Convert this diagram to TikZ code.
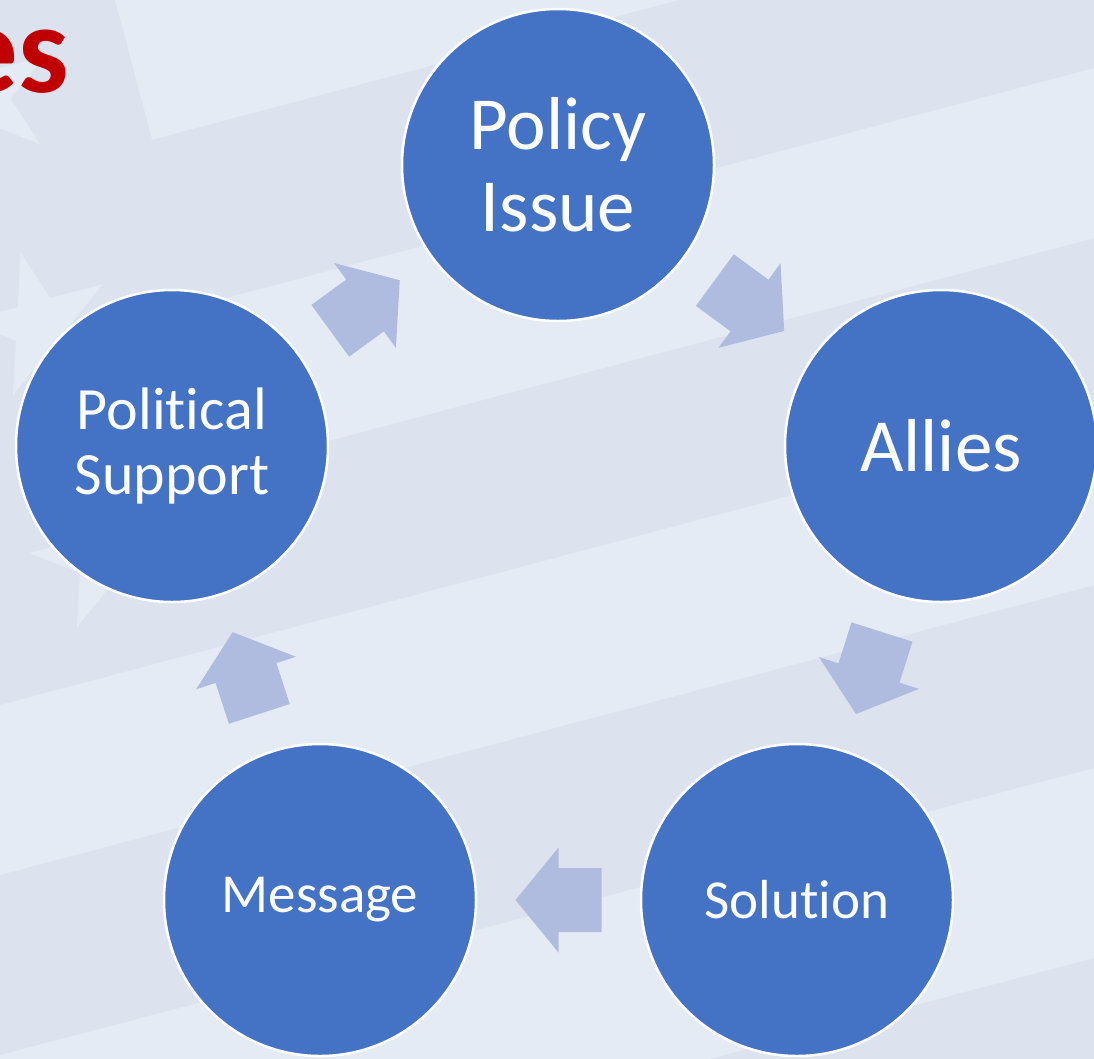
\documentclass[tikz,border=0pt]{standalone}
\usepackage{fontspec}
\setmainfont{Carlito}[Ligatures={NoCommon}]
\usetikzlibrary{calc,shapes.geometric}
\definecolor{bgdark}{HTML}{DCE3EE}
\definecolor{bglight}{HTML}{E5EBF4}
\definecolor{circblue}{HTML}{4472C4}
\definecolor{arrowfill}{HTML}{AFBCDF}
\definecolor{titlered}{HTML}{C00000}
\newcommand\cyclearrow[2]{%
  \coordinate (am) at ($(#1)!0.5!(#2)$);
  \coordinate (at) at ($(am)!43pt!(#1)$);
  \coordinate (ap) at ($(am)!43pt!(#2)$);
  \fill[arrowfill] ($(at)!32pt!90:(#2)$) -- ($(am)!32pt!90:(#2)$) -- ($(am)!52.5pt!90:(#2)$) -- (ap)
    -- ($(am)!52.5pt!-90:(#2)$) -- ($(am)!32pt!-90:(#2)$) -- ($(at)!32pt!-90:(#2)$) -- cycle;
}
\begin{document}
\begin{tikzpicture}[x=1pt,y=-1pt,
  cyc/.style={circle, fill=circblue, draw=white, line width=2.5pt, minimum size=312pt,
    inner sep=0pt, text=white, align=center},
  flagstar/.style={star, star points=5, star point ratio=2.618, minimum size=150pt,
    fill=bglight, inner sep=0pt, rotate=15}]
\useasboundingbox (0,0) rectangle (1094,1058);
\clip (0,0) rectangle (1094,1058);
% background flag
\fill[bgdark] (-10,-10) rectangle (1104,1068);
\fill[bglight] (115,0) -- (152.2,139.7) -- (679.2,0) -- cycle;
\fill[bglight] (196.2,306) -- (238.4,464.8) -- (1110,233.9) -- (1110,63.9) -- cycle;
\fill[bglight] (-10,707.65) -- (-10,877.65) -- (1110,580.9) -- (1110,410.9) -- cycle;
\fill[bglight] (-10,1057.65) -- (-10,1247.65) -- (1110,953.9) -- (1110,763.9) -- cycle;
\node[flagstar] (star1) at (-18,97) {};
\node[flagstar] (star2) at (40,325) {};
\node[flagstar] (star3) at (104,557) {};
% title fragment
\node[anchor=base east, text=titlered, inner sep=0pt,
  font=\bfseries\fontsize{127}{127}\selectfont] (title) at (69,92) {es};
% circles
\node[cyc, font=\fontsize{75}{82}\selectfont] (pi) at (558,165) {Policy\\Issue};
\node[cyc, font=\fontsize{75}{82}\selectfont] (al) at (941,446) {Allies};
\node[cyc, font=\fontsize{60}{65}\selectfont] (ps) at (172,446) {Political\\Support};
\node[cyc, font=\fontsize{55}{60}\selectfont] (me) at (320,900) {Message};
\node[cyc, font=\fontsize{55}{60}\selectfont] (so) at (797,900) {Solution};
% arrows
\cyclearrow{pi}{al}
\cyclearrow{al}{so}
\cyclearrow{so}{me}
\cyclearrow{me}{ps}
\cyclearrow{ps}{pi}
\end{tikzpicture}
\end{document}
